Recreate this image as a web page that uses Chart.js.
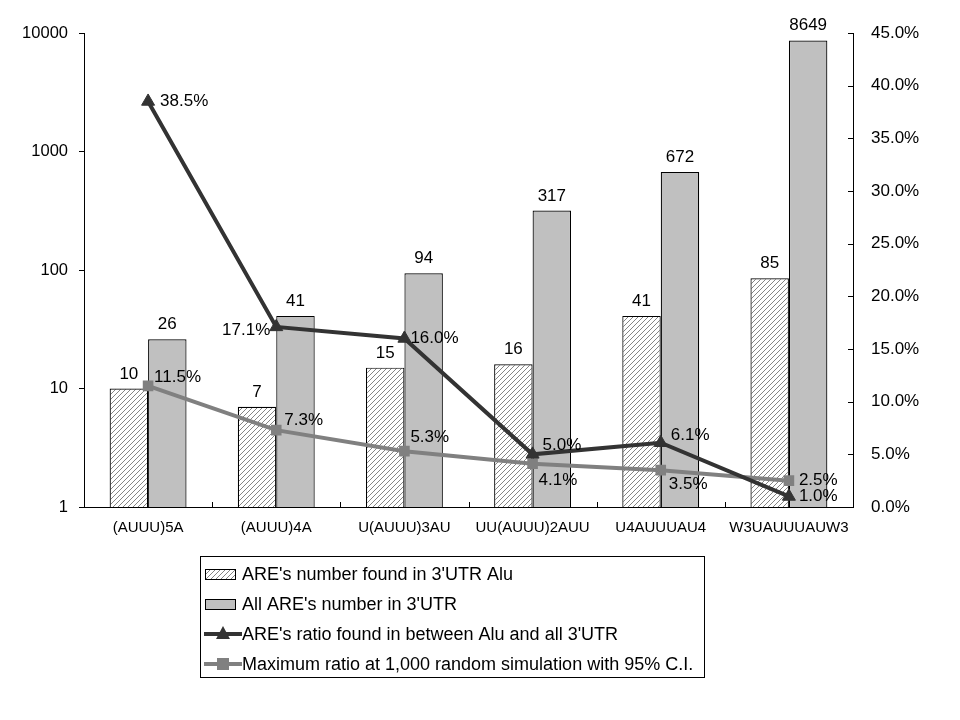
<!DOCTYPE html>
<html>
<head>
<meta charset="utf-8">
<script src="https://cdn.jsdelivr.net/npm/chart.js@4"></script>
<style>
  html, body { margin: 0; padding: 0; background: #fff; }
  #wrap { width: 960px; height: 720px; }
</style>
</head>
<body>
<div id="wrap"><canvas id="areChart" width="960" height="720"></canvas></div>
<script>
const categories = ["(AUUU)5A", "(AUUU)4A", "U(AUUU)3AU", "UU(AUUU)2AUU", "U4AUUUAU4", "W3UAUUUAUW3"];
const aluCounts = [10, 7, 15, 16, 41, 85];
const allCounts = [26, 41, 94, 317, 672, 8649];
const ratioPct = [38.5, 17.1, 16.0, 5.0, 6.1, 1.0];
const maxRatioPct = [11.5, 7.3, 5.3, 4.1, 3.5, 2.5];
const leftTicks = [1, 10, 100, 1000, 10000];
const rightTicks = [0, 5, 10, 15, 20, 25, 30, 35, 40, 45];

const FONT = "'Liberation Sans', Arial, sans-serif";
const DARK = "#333333";
const GRAY = "#808080";

// diagonal hatch fill for the Alu bars
function makeHatch() {
  const c = document.createElement("canvas");
  c.width = 5;
  c.height = 5;
  const g = c.getContext("2d");
  g.fillStyle = "#fff";
  g.fillRect(0, 0, 5, 5);
  g.strokeStyle = "#666";
  g.lineWidth = 0.8;
  g.beginPath();
  g.moveTo(0, 5); g.lineTo(5, 0);
  g.moveTo(-2.5, 2.5); g.lineTo(2.5, -2.5);
  g.moveTo(2.5, 7.5); g.lineTo(7.5, 2.5);
  g.stroke();
  return g.createPattern(c, "repeat");
}
const hatch = makeHatch();

// where each percentage label sits relative to its point
const labelPlace = {
  2: [[12, 0, "left"], [-6, 3, "right"], [6, 0, "left"], [10, -9, "left"], [10, -7, "left"], [10, 0, "left"]],
  3: [[6, -9, "left"], [8, -10, "left"], [6, -14, "left"], [6, 16, "left"], [8, 14, "left"], [10, 0, "left"]],
};

const valueLabels = {
  id: "valueLabels",
  afterDatasetsDraw(chart) {
    const ctx = chart.ctx;
    ctx.save();
    ctx.fillStyle = "#000";
    ctx.font = "17px " + FONT;
    chart.data.datasets.forEach((ds, i) => {
      const meta = chart.getDatasetMeta(i);
      meta.data.forEach((el, j) => {
        if (ds.type === "bar") {
          ctx.textAlign = "center";
          ctx.textBaseline = "alphabetic";
          ctx.fillText(String(ds.data[j]), el.x, el.y - 10);
        } else {
          const p = labelPlace[i][j];
          ctx.textAlign = p[2];
          ctx.textBaseline = "middle";
          ctx.fillText(ds.data[j].toFixed(1) + "%", el.x + p[0], el.y + p[1]);
        }
      });
    });
    ctx.restore();
  },
};

// Excel style inner tick marks on the category axis and the right axis
const innerTicks = {
  id: "innerTicks",
  afterDraw(chart) {
    const ctx = chart.ctx;
    const xs = chart.scales.x;
    const yr = chart.scales.y1;
    ctx.save();
    ctx.strokeStyle = "#000";
    ctx.lineWidth = 1;
    ctx.beginPath();
    const half = (xs.getPixelForValue(1) - xs.getPixelForValue(0)) / 2;
    for (let i = 1; i < categories.length; i++) {
      const px = Math.round(xs.getPixelForValue(i) - half) + 0.5;
      ctx.moveTo(px, xs.top);
      ctx.lineTo(px, xs.top - 5);
    }
    rightTicks.forEach((v) => {
      const py = Math.round(yr.getPixelForValue(v)) + 0.5;
      ctx.moveTo(yr.left, py);
      ctx.lineTo(yr.left - 5, py);
    });
    ctx.stroke();
    ctx.restore();
  },
};

const boxLegend = {
  id: "boxLegend",
  afterDraw(chart) {
    const ctx = chart.ctx;
    const x0 = 200, y0 = 556, w = 504, h = 121, rowH = 30;
    ctx.save();
    ctx.strokeStyle = "#000";
    ctx.lineWidth = 1;
    ctx.strokeRect(x0 + 0.5, y0 + 0.5, w, h);
    ctx.font = "18px " + FONT;
    ctx.textBaseline = "middle";
    ctx.textAlign = "left";
    chart.data.datasets.forEach((ds, i) => {
      const cy = y0 + 18 + i * rowH;
      if (ds.type === "bar") {
        ctx.fillStyle = ds.backgroundColor;
        ctx.fillRect(205, cy - 5, 30, 10);
        ctx.strokeStyle = "#000";
        ctx.strokeRect(205.5, cy - 4.5, 30, 10);
      } else {
        ctx.strokeStyle = ds.borderColor;
        ctx.lineWidth = 4;
        ctx.beginPath();
        ctx.moveTo(204, cy);
        ctx.lineTo(242, cy);
        ctx.stroke();
        ctx.fillStyle = ds.borderColor;
        ctx.beginPath();
        if (ds.pointStyle === "triangle") {
          ctx.moveTo(223, cy - 8);
          ctx.lineTo(230, cy + 5);
          ctx.lineTo(216, cy + 5);
        } else {
          ctx.rect(217, cy - 6, 12, 12);
        }
        ctx.fill();
        ctx.lineWidth = 1;
      }
      ctx.fillStyle = "#000";
      ctx.fillText(ds.label, 242, cy + 1);
    });
    ctx.restore();
  },
};

new Chart(document.getElementById("areChart"), {
  data: {
    labels: categories,
    datasets: [
      {
        type: "bar",
        label: "ARE's number found in 3'UTR Alu",
        data: aluCounts,
        backgroundColor: hatch,
        borderColor: "#000",
        borderWidth: 1.2,
        yAxisID: "y",
        order: 3,
        categoryPercentage: 0.6,
        barPercentage: 1.0,
      },
      {
        type: "bar",
        label: "All ARE's number in 3'UTR",
        data: allCounts,
        backgroundColor: "#c0c0c0",
        borderColor: "#000",
        borderWidth: 1.2,
        yAxisID: "y",
        order: 3,
        categoryPercentage: 0.6,
        barPercentage: 1.0,
      },
      {
        type: "line",
        label: "ARE's ratio found in between Alu and all 3'UTR",
        data: ratioPct,
        borderColor: DARK,
        backgroundColor: DARK,
        borderWidth: 4,
        pointStyle: "triangle",
        pointRadius: 7.5,
        pointBorderWidth: 1,
        pointBorderColor: DARK,
        tension: 0,
        yAxisID: "y1",
        order: 1,
      },
      {
        type: "line",
        label: "Maximum ratio at 1,000 random simulation with 95% C.I.",
        data: maxRatioPct,
        borderColor: GRAY,
        backgroundColor: GRAY,
        borderWidth: 4,
        pointStyle: "rect",
        pointRadius: 7.5,
        pointBorderWidth: 0,
        tension: 0,
        yAxisID: "y1",
        order: 2,
      },
    ],
  },
  options: {
    responsive: false,
    animation: false,
    layout: { padding: { top: 33, left: 0, right: 0, bottom: 173 } },
    plugins: {
      legend: { display: false },
      tooltip: { enabled: false },
    },
    scales: {
      x: {
        grid: { display: false },
        border: { display: true, color: "#000", width: 1 },
        ticks: { color: "#000", font: { family: FONT, size: 15 }, maxRotation: 0, padding: 4 },
        afterFit(scale) { scale.height = 40; },
      },
      y: {
        type: "logarithmic",
        position: "left",
        min: 1,
        max: 10000,
        grid: { display: true, drawOnChartArea: false, color: "#000", tickLength: 5 },
        border: { display: true, color: "#000", width: 1 },
        ticks: { color: "#000", font: { family: FONT, size: 16.5 }, padding: 11, callback: (v) => String(v) },
        afterBuildTicks(scale) { scale.ticks = leftTicks.map((v) => ({ value: v })); },
        afterFit(scale) { scale.width = 84; },
      },
      y1: {
        type: "linear",
        position: "right",
        min: 0,
        max: 45,
        grid: { display: false },
        border: { display: true, color: "#000", width: 1 },
        ticks: { color: "#000", font: { family: FONT, size: 17 }, padding: 10, callback: (v) => v.toFixed(1) + "%" },
        afterBuildTicks(scale) { scale.ticks = rightTicks.map((v) => ({ value: v })); },
        afterFit(scale) { scale.width = 107; },
      },
    },
  },
  plugins: [valueLabels, innerTicks, boxLegend],
});
</script>
</body>
</html>
